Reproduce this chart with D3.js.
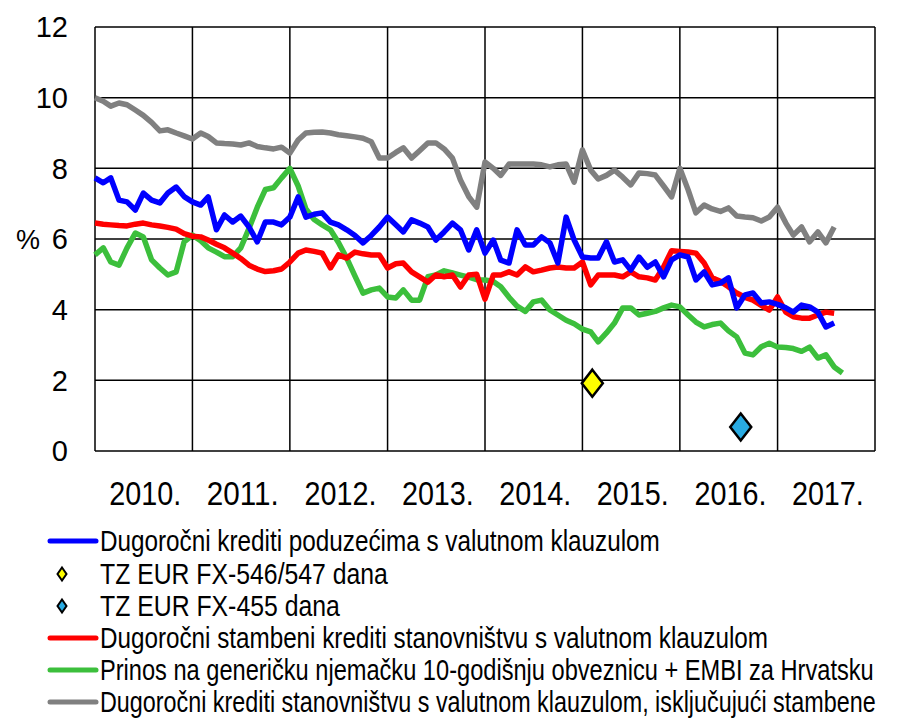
<!DOCTYPE html>
<html>
<head>
<meta charset="utf-8">
<script src="https://cdn.jsdelivr.net/npm/d3@7"></script>
<style>
body { margin: 0; background: #fff; }
text { font-family: "Liberation Sans", Arial, sans-serif; fill: #000; }
</style>
</head>
<body>
<svg id="chart" width="906" height="718"></svg>
<script>
// monthly data, first value = Jan 2010
var startYear = 2010;
var yearLabels = ['2010.', '2011.', '2012.', '2013.', '2014.', '2015.', '2016.', '2017.'];
var yTicks = [0, 2, 4, 6, 8, 10, 12];

// Dugoročni krediti poduzećima s valutnom klauzulom
var poduzecaData = [7.73, 7.59, 7.73, 7.1, 7.05, 6.82, 7.3, 7.1, 7.02, 7.3, 7.47, 7.2,
	7.05, 6.96, 7.19, 6.26, 6.68, 6.48, 6.65, 6.34, 5.92, 6.48, 6.48, 6.4,
	6.62, 7.19, 6.62, 6.7, 6.74, 6.48, 6.4, 6.26, 6.1, 5.89, 6.1, 6.34,
	6.62, 6.4, 6.2, 6.54, 6.45, 6.34, 5.97, 6.2, 6.45, 6.26, 5.69, 6.26,
	5.6, 5.97, 5.4, 5.32, 6.26, 5.83, 5.83, 6.06, 5.89, 5.32, 6.62, 5.97,
	5.49, 5.46, 5.46, 5.92, 5.35, 5.41, 5.12, 5.49, 5.2, 5.35, 4.93, 5.41,
	5.55, 5.49, 4.84, 5.07, 4.7, 4.75, 4.9, 4.05, 4.42, 4.47, 4.19, 4.22,
	4.15, 4.05, 3.93, 4.13, 4.08, 3.93, 3.51, 3.62];

// Dugoročni stambeni krediti stanovništvu s valutnom klauzulom
var stambeniData = [6.45, 6.42, 6.4, 6.38, 6.37, 6.42, 6.45, 6.4, 6.37, 6.33, 6.28, 6.15,
	6.08, 6.06, 5.97, 5.85, 5.75, 5.6, 5.45, 5.26, 5.15, 5.08, 5.1, 5.15,
	5.35, 5.6, 5.69, 5.65, 5.6, 5.18, 5.55, 5.46, 5.63, 5.58, 5.55, 5.55,
	5.18, 5.3, 5.32, 5.07, 4.93, 4.78, 4.98, 4.93, 4.98, 4.64, 4.98, 5.0,
	4.3, 4.98, 4.98, 5.07, 4.98, 5.21, 5.07, 5.12, 5.18, 5.21, 5.18, 5.18,
	5.35, 4.7, 4.98, 4.98, 4.98, 4.93, 5.07, 4.93, 4.9, 4.84, 5.21, 5.67,
	5.65, 5.63, 5.6, 5.32, 4.9, 4.8, 4.65, 4.47, 4.35, 4.27, 4.12, 3.99,
	4.36, 3.93, 3.8, 3.76, 3.76, 3.85, 3.93, 3.9];

// Prinos na generičku njemačku 10-godišnju obveznicu + EMBI za Hrvatsku
var prinosData = [5.55, 5.75, 5.35, 5.26, 5.75, 6.17, 6.06, 5.41, 5.18, 4.98, 5.07, 5.92,
	6.11, 5.95, 5.75, 5.63, 5.5, 5.5, 5.75, 6.3, 6.9, 7.4, 7.45, 7.73,
	8.0, 7.5, 6.85, 6.55, 6.4, 6.26, 5.9, 5.46, 4.95, 4.47, 4.56, 4.61,
	4.36, 4.33, 4.56, 4.27, 4.27, 4.93, 4.98, 5.1, 5.04, 4.98, 4.92, 4.85,
	4.84, 4.8, 4.65, 4.35, 4.1, 3.95, 4.22, 4.27, 3.99, 3.85, 3.7, 3.6,
	3.45, 3.37, 3.09, 3.34, 3.62, 4.05, 4.05, 3.85, 3.9, 3.95, 4.05, 4.13,
	4.08, 3.85, 3.65, 3.51, 3.58, 3.62, 3.4, 3.23, 2.77, 2.72, 2.95, 3.05,
	2.94, 2.93, 2.9, 2.82, 2.94, 2.63, 2.72, 2.38, 2.21];

// Dugoročni krediti stanovništvu s valutnom klauzulom, isključujući stambene
var stanovnistvoData = [10.0, 9.9, 9.76, 9.85, 9.8, 9.65, 9.5, 9.3, 9.06, 9.09, 9.0, 8.92,
	8.83, 9.0, 8.9, 8.72, 8.7, 8.69, 8.66, 8.72, 8.62, 8.58, 8.55, 8.6,
	8.43, 8.8, 9.0, 9.02, 9.03, 9.0, 8.95, 8.92, 8.89, 8.85, 8.75, 8.29,
	8.29, 8.45, 8.58, 8.29, 8.5, 8.72, 8.72, 8.55, 8.29, 7.67, 7.2, 6.9,
	8.18, 8.0, 7.8, 8.12, 8.12, 8.12, 8.12, 8.1, 8.04, 8.1, 8.12, 7.61,
	8.52, 7.95, 7.7, 7.8, 7.95, 7.75, 7.53, 7.87, 7.85, 7.81, 7.5, 7.19,
	8.0, 7.39, 6.74, 6.96, 6.85, 6.78, 6.88, 6.65, 6.62, 6.6, 6.51, 6.62,
	6.9, 6.45, 6.11, 6.34, 5.92, 6.2, 5.89, 6.34];

// TZ EUR FX trezorski zapisi
var tzDates = ['2015-02-07', '2016-08-16'];
var tzValues = [1.92, 0.68];

var svg = d3.select('#chart');
var plot = {left: 95, right: 875, top: 27, bottom: 451};

var x = d3.scaleTime()
	.domain([new Date(startYear, 0, 1), new Date(startYear + yearLabels.length, 0, 1)])
	.range([plot.left, plot.right]);
var y = d3.scaleLinear()
	.domain([0, 12])
	.range([plot.bottom, plot.top]);

function monthDate(i) { return new Date(startYear, i, 1); }

// squeeze a text horizontally to a given width (the source font is narrow)
function squeeze(sel, x0, y0, w) {
	var nat = sel.node().getComputedTextLength();
	sel.attr('transform', 'translate(' + x0 + ',' + y0 + ') scale(' + (w / nat) + ',1)');
}

// grid
var grid = svg.append('g');
grid.selectAll('.hgrid')
	.data(yTicks)
	.enter().append('line')
	.attr('x1', plot.left).attr('x2', plot.right)
	.attr('y1', function(d) { return y(d); })
	.attr('y2', function(d) { return y(d); })
	.attr('stroke', '#000').attr('stroke-width', 1.5);

var yearTicks = d3.range(yearLabels.length + 1).map(function(i) { return new Date(startYear + i, 0, 1); });
grid.selectAll('.vgrid')
	.data(yearTicks)
	.enter().append('line')
	.attr('x1', function(d) { return x(d); })
	.attr('x2', function(d) { return x(d); })
	.attr('y1', plot.top).attr('y2', plot.bottom)
	.attr('stroke', '#000').attr('stroke-width', 1.5);

// y labels
svg.selectAll('.ylab')
	.data(yTicks)
	.enter().append('text')
	.attr('x', 68)
	.attr('y', function(d) { return y(d); })
	.attr('dy', '0.36em')
	.attr('text-anchor', 'end')
	.style('font-size', '29px')
	.text(function(d) { return d; });

svg.append('text')
	.attr('x', 16).attr('y', y(6))
	.attr('dy', '0.36em')
	.style('font-size', '27px')
	.text('%');

// x labels
svg.selectAll('.xlab')
	.data(yearLabels)
	.enter().append('text')
	.style('font-size', '34px')
	.text(function(d) { return d; })
	.each(function(d, i) {
		squeeze(d3.select(this), x(new Date(startYear + i, 6, 1)) + 2 - 36, 505, 72);
	});

// lines
var line = d3.line()
	.x(function(d, i) { return x(monthDate(i)); })
	.y(function(d) { return y(d); });

var series = [
	{data: stanovnistvoData, color: '#808080'},
	{data: prinosData, color: '#3cbf3c'},
	{data: stambeniData, color: '#ff0000'},
	{data: poduzecaData, color: '#0000ff'}
];

svg.selectAll('.series')
	.data(series)
	.enter().append('path')
	.attr('d', function(d) { return line(d.data); })
	.attr('fill', 'none')
	.attr('stroke', function(d) { return d.color; })
	.attr('stroke-width', 5.5)
	.attr('stroke-linejoin', 'round');

// diamonds
function diamond(w, h) {
	return 'M0,' + (-h / 2) + 'L' + (w / 2) + ',0L0,' + (h / 2) + 'L' + (-w / 2) + ',0Z';
}
var tzColors = ['#ffff00', '#29abe2'];
var parseDay = d3.timeParse('%Y-%m-%d');
svg.selectAll('.tz')
	.data(tzValues)
	.enter().append('path')
	.attr('transform', function(d, i) { return 'translate(' + x(parseDay(tzDates[i])) + ',' + y(d) + ')'; })
	.attr('d', diamond(21, 27))
	.attr('fill', function(d, i) { return tzColors[i]; })
	.attr('stroke', '#000')
	.attr('stroke-width', 2.5);

// legend
var legend = [
	{type: 'line', color: '#0000ff', label: 'Dugoročni krediti poduzećima s valutnom klauzulom', y: 541, w: 560},
	{type: 'dia', color: '#ffff00', label: 'TZ EUR FX-546/547 dana', y: 574, w: 288},
	{type: 'dia', color: '#29abe2', label: 'TZ EUR FX-455 dana', y: 606, w: 240},
	{type: 'line', color: '#ff0000', label: 'Dugoročni stambeni krediti stanovništvu s valutnom klauzulom', y: 638, w: 668},
	{type: 'line', color: '#3cbf3c', label: 'Prinos na generičku njemačku 10-godišnju obveznicu + EMBI za Hrvatsku', y: 670, w: 774},
	{type: 'line', color: '#808080', label: 'Dugoročni krediti stanovništvu s valutnom klauzulom, isključujući stambene', y: 702, w: 776}
];

var lg = svg.selectAll('.leg')
	.data(legend)
	.enter().append('g');

lg.filter(function(d) { return d.type === 'line'; })
	.append('line')
	.attr('x1', 50).attr('x2', 96)
	.attr('y1', function(d) { return d.y; })
	.attr('y2', function(d) { return d.y; })
	.attr('stroke', function(d) { return d.color; })
	.attr('stroke-width', 5)
	.attr('stroke-linecap', 'round');

lg.filter(function(d) { return d.type === 'dia'; })
	.append('path')
	.attr('transform', function(d) { return 'translate(62,' + d.y + ')'; })
	.attr('d', diamond(9, 13))
	.attr('fill', function(d) { return d.color; })
	.attr('stroke', '#000')
	.attr('stroke-width', 2);

lg.append('text')
	.attr('dy', '0.36em')
	.style('font-size', '29px')
	.text(function(d) { return d.label; })
	.each(function(d) { squeeze(d3.select(this), 100, d.y, d.w); });
</script>
</body>
</html>
